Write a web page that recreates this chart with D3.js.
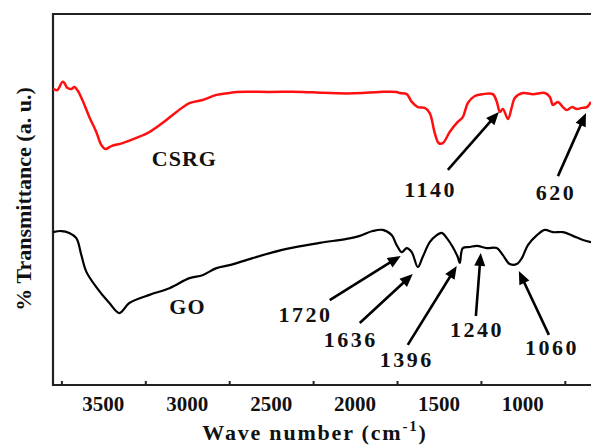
<!DOCTYPE html>
<html>
<head>
<meta charset="utf-8">
<script src="https://cdn.jsdelivr.net/npm/d3@7/dist/d3.min.js"></script>
<style>
  html, body { margin: 0; padding: 0; background: #fff; }
  svg { display: block; }
  text { font-family: "Liberation Serif", "Times New Roman", serif; font-weight: bold; fill: #111; }
</style>
</head>
<body>
<svg id="chart" width="591" height="448"></svg>
<script>
// ---- data (wavenumber cm^-1, % transmittance, arbitrary units) ----
const csrgWave = [3800,3774,3744,3732,3715,3691,3673,3655,3625,3583,3542,3512,3488,3452,3386,3303,3225,3148,3064,2987,2909,2826,2748,2706,2509,2313,2211,2050,1955,1853,1752,1734,1692,1662,1626,1585,1555,1525,1501,1477,1436,1388,1358,1328,1286,1239,1179,1155,1137,1119,1089,1066,1048,1000,940,869,839,821,791,761,738,708,678,648,618,594];
const csrgT    = [79.8,79.5,81.7,81.4,80.1,79.8,80.3,79.5,76.8,72.2,68.2,64.7,63.6,64.4,65.2,66.6,68.2,70.6,73.6,76.0,76.8,78.2,78.7,79.0,79.0,79.0,78.8,78.6,78.7,79.0,79.0,78.7,78.4,76.3,74.9,74.7,73.3,67.9,65.2,65.2,68.2,70.9,72.2,76.0,77.9,78.4,78.4,76.3,73.6,74.4,71.7,74.9,77.4,78.7,78.4,78.7,77.6,75.5,76.3,74.9,74.1,74.9,74.4,74.7,74.9,76.3];

const goWave = [3800,3750,3703,3661,3631,3601,3542,3464,3404,3345,3225,3106,2987,2909,2826,2748,2611,2408,2211,2050,1972,1895,1835,1782,1752,1722,1692,1662,1626,1597,1555,1513,1483,1453,1418,1388,1376,1358,1316,1274,1215,1155,1119,1078,1036,1006,970,916,869,821,761,702,642,594];
const goT    = [41.2,41.5,41.0,39.6,35.0,30.5,26.4,22.1,19.4,22.1,24.3,26.1,28.8,29.6,31.5,32.3,34.2,36.7,38.3,39.4,40.2,41.5,41.8,40.4,37.7,35.8,36.9,35.8,31.8,34.5,38.5,40.4,41.0,39.6,37.2,34.5,32.9,36.9,37.2,37.5,36.9,36.9,35.0,32.6,32.6,34.2,37.7,40.4,41.8,41.2,41.2,40.2,39.1,38.5];

const tickLabels = [3500, 3000, 2500, 2000, 1500, 1000];
const tickMarks  = [3750, 3250, 2750, 2250, 1750, 1250, 750];

// peak annotations: label, arrow tip (wave, T), arrow tail (wave, T), label anchor (wave, T)
const peakLabels = ["1720","1636","1396","1240","1060","1140","620"];
const peakTip    = [[1728,34.8],[1656,29.9],[1394,32.1],[1251,35.6],[1024,30.7],[1143,73.6],[624,73.3]];
const peakTail   = [[2151,22.9],[1972,16.7],[1686,10.8],[1280,18.6],[845,13.5],[1447,58.0],[791,56.3]];
const peakText   = [[2295,17.0],[2026,10.2],[1692,4.9],[1274,12.9],[827,8.1],[1549,50.7],[803,49.9]];

const seriesNames = ["CSRG", "GO"];
const seriesText  = [[3017, 59.0], [2999, 19.1]];
const seriesColors = ["#ff1010", "#000000"];

// ---- layout ----
const svg = d3.select("#chart");
const mLeft = 53, mRight = 591, mTop = 14, mBottom = 385;

const x = d3.scaleLinear().domain([3800, 594]).range([mLeft, mRight]);
const y = d3.scaleLinear().domain([0, 100]).range([mBottom, mTop]);

const series = [
  csrgWave.map((w, i) => [w, csrgT[i]]),
  goWave.map((w, i) => [w, goT[i]])
];

const line = d3.line().x(d => x(d[0])).y(d => y(d[1])).curve(d3.curveCatmullRom.alpha(0.5));

// frame
svg.append("line").attr("x1", mLeft).attr("x2", mRight + 2).attr("y1", mTop).attr("y2", mTop)
  .attr("stroke", "#222").attr("stroke-width", 2);
svg.append("line").attr("x1", mLeft).attr("x2", mLeft).attr("y1", mTop - 1).attr("y2", mBottom + 1)
  .attr("stroke", "#222").attr("stroke-width", 2.2);

// x axis with inward tick marks (unlabelled) and labels
const xAxis = d3.axisBottom(x).tickValues(tickMarks).tickSizeInner(-4).tickSizeOuter(0).tickFormat("");
const gx = svg.append("g").attr("transform", `translate(0,${mBottom})`).call(xAxis);
gx.select(".domain").attr("stroke", "#222").attr("stroke-width", 2).attr("d", `M${mLeft},0H${mRight + 2}`);
gx.selectAll(".tick line").attr("stroke", "#222").attr("stroke-width", 2);

svg.append("g").selectAll("text").data(tickLabels).join("text")
  .attr("x", d => x(d)).attr("y", mBottom + 26)
  .attr("text-anchor", "middle").attr("font-size", 21)
  .text(d => d);

// axis titles
const xt = svg.append("text").attr("x", 315).attr("y", 440).attr("text-anchor", "middle")
  .attr("font-size", 22).style("letter-spacing", "1.8px");
xt.append("tspan").text("Wave number (cm");
xt.append("tspan").attr("dy", -9).attr("font-size", 15).text("-1");
xt.append("tspan").attr("dy", 9).text(")");

svg.append("text").attr("transform", `translate(31,${199}) rotate(-90)`)
  .attr("text-anchor", "middle").attr("font-size", 22)
  .text("% Transmittance (a. u.)");

// curves
svg.append("g").selectAll("path").data(series).join("path")
  .attr("d", line).attr("fill", "none")
  .attr("stroke", (d, i) => seriesColors[i])
  .attr("stroke-width", (d, i) => i === 0 ? 2.5 : 2.2)
  .attr("stroke-linejoin", "round");

// series labels
svg.append("g").selectAll("text").data(seriesNames).join("text")
  .attr("x", (d, i) => x(seriesText[i][0])).attr("y", (d, i) => y(seriesText[i][1]))
  .attr("text-anchor", "middle").attr("font-size", 22).style("letter-spacing", "1px")
  .text(d => d);

// arrows
const ag = svg.append("g");
peakLabels.forEach((lab, i) => {
  const tx = x(peakTip[i][0]), ty = y(peakTip[i][1]);
  const sx = x(peakTail[i][0]), sy = y(peakTail[i][1]);
  const dx = tx - sx, dy = ty - sy, len = Math.hypot(dx, dy);
  const ux = dx / len, uy = dy / len;
  const head = 13, half = 5.5;
  const bx = tx - ux * head, by = ty - uy * head;
  ag.append("line").attr("x1", sx).attr("y1", sy).attr("x2", bx + ux * 2).attr("y2", by + uy * 2)
    .attr("stroke", "#000").attr("stroke-width", 2.6);
  ag.append("path")
    .attr("d", `M${tx},${ty}L${bx - uy * half},${by + ux * half}L${bx + uy * half},${by - ux * half}Z`)
    .attr("fill", "#000");
  ag.append("text").attr("x", x(peakText[i][0])).attr("y", y(peakText[i][1]))
    .attr("text-anchor", "middle").attr("font-size", 22).style("letter-spacing", "2.5px")
    .text(lab);
});
</script>
</body>
</html>
